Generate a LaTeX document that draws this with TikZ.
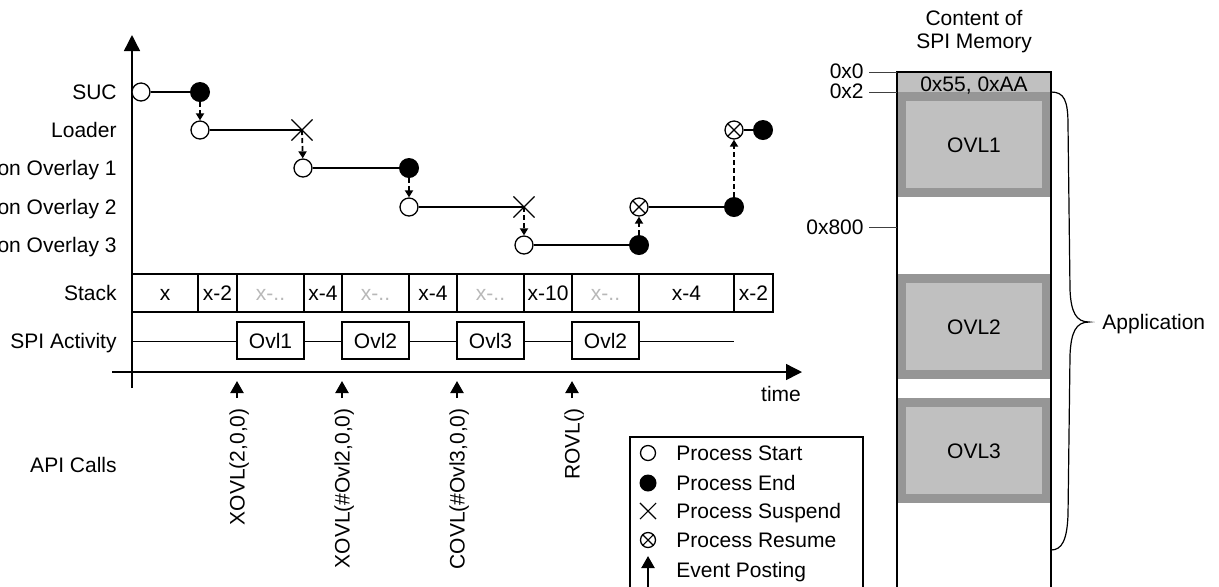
\documentclass[tikz,border=0pt]{standalone}
\usepackage{fontspec}
\setmainfont{Liberation Sans}
\usetikzlibrary{shapes.misc,arrows.meta,positioning}
\definecolor{memdark}{HTML}{969696}
\definecolor{memlight}{HTML}{C0C0C0}
\definecolor{greytxt}{HTML}{B8B8B8}
\tikzset{
  lbl/.style={inner sep=0pt, text height=7.5pt, text depth=0pt},
  rowlabel/.style={lbl, anchor=east},
  pstart/.style={circle, draw, fill=white, line width=0.65pt, minimum size=9pt, inner sep=0pt},
  pend/.style={circle, fill=black, minimum size=10pt, inner sep=0pt},
  psusp/.style={cross out, draw, line width=0.55pt, minimum size=10pt, inner sep=0pt},
  presume/.style={pstart, path picture={
      \draw[line width=0.55pt] (path picture bounding box.south west) -- (path picture bounding box.north east)
        (path picture bounding box.north west) -- (path picture bounding box.south east);}},
  proc/.style={line width=1.4pt},
  evt/.style={line width=0.9pt, dash pattern=on 2.5pt off 1.5pt, -{Triangle[length=3.5pt,width=4pt]}},
  axis/.style={line width=0.7pt, -{Triangle[length=8pt,width=8pt]}},
  stkcell/.style={lbl, draw, line width=0.7pt, minimum height=19pt},
  spibox/.style={lbl, draw, fill=white, line width=0.7pt, minimum height=18.5pt},
  apicall/.style={lbl, rotate=90, anchor=east, inner xsep=5pt},
  postarrow/.style={line width=1.1pt, -{Triangle[length=6pt,width=6.5pt]}},
  ovlblock/.style={lbl, fill=memlight, draw=memdark, line width=4.5pt, minimum width=72.5pt, minimum height=48pt},
  memframe/.style={line width=1.3pt},
  addrtick/.style={line width=0.5pt, draw=black!75}
}
\begin{document}
\begin{tikzpicture}[x=0.5pt, y=-0.5pt, font=\fontsize{10.5}{11.5}\selectfont]
\clip (0,0) rectangle (1219,586);

% axes
\coordinate (yax-bot) at (132,388);
\coordinate (yax-top) at (132,35);
\coordinate (xax-l) at (112,372);
\coordinate (xax-r) at (802,372);
\draw[axis] (yax-bot) -- (yax-top);
\draw[axis] (xax-l) -- (xax-r);
\node[lbl] (time) at (781,394) {time};

% row labels
\foreach \txt/\y/\nm in {SUC/92/suc, Loader/130/ldr, on Overlay 1/168/ov1, on Overlay 2/207/ov2,
  on Overlay 3/245/ov3, Stack/293/stk, SPI Activity/341/spi, API Calls/465/api}
  \node[rowlabel] (lbl-\nm) at (117,\y) {\txt};

% processes
\node[pstart] (suc-s) at (141,92) {};
\node[pend] (suc-e) at (200,92) {};
\node[pstart] (ldr-s) at (200,130) {};
\node[psusp] (ldr-x) at (302,130) {};
\node[presume] (ldr-r) at (734,130) {};
\node[pend] (ldr-e) at (763,130) {};
\node[pstart] (ov1-s) at (303,168) {};
\node[pend] (ov1-e) at (409,168) {};
\node[pstart] (ov2-s) at (409,207) {};
\node[psusp] (ov2-x) at (524,207) {};
\node[presume] (ov2-r) at (639,207) {};
\node[pend] (ov2-e) at (734,207) {};
\node[pstart] (ov3-s) at (524,245) {};
\node[pend] (ov3-e) at (639,245) {};

\draw[proc] (suc-s) -- (suc-e);
\draw[proc] (ldr-s) -- (ldr-x.center);
\draw[proc] (ldr-r) -- (ldr-e);
\draw[proc] (ov1-s) -- (ov1-e);
\draw[proc] (ov2-s) -- (ov2-x.center);
\draw[proc] (ov2-r) -- (ov2-e);
\draw[proc] (ov3-s) -- (ov3-e);

% switches between processes
\draw[evt] (suc-e) -- (ldr-s);
\draw[evt] (ldr-x.center) -- (ov1-s);
\draw[evt] (ov1-e) -- (ov2-s);
\draw[evt] (ov2-x.center) -- (ov3-s);
\draw[evt] (ov3-e) -- (ov2-r);
\draw[evt] (ov2-e) -- (ldr-r);

% stack
\foreach \a/\b/\t/\c [count=\i] in {132/198/x/black, 198/237/x-2/black, 237/304/x-../greytxt,
  304/342/x-4/black, 342/409/x-../greytxt, 409/457/x-4/black, 457/524/x-../greytxt,
  524/572/x-10/black, 572/639/x-../greytxt, 639/734/x-4/black, 734/773/x-2/black}
  \node[stkcell, text=\c, minimum width={(\b-\a)*0.5pt}] (stk-\i) at ({(\a+\b)/2},293) {\t};

% SPI activity
\coordinate (spi-l) at (132,341);
\coordinate (spi-r) at (734,341);
\draw[line width=0.5pt] (spi-l) -- (spi-r);
\foreach \a/\b/\t [count=\i] in {237/304/Ovl1, 342/409/Ovl2, 457/524/Ovl3, 572/639/Ovl2}
  \node[spibox, minimum width={(\b-\a)*0.5pt}] (spi-\i) at ({(\a+\b)/2},340.5) {\t};

% API calls
\foreach \x/\t [count=\i] in {237/{XOVL(2,0,0)}, 342/{XOVL(\#Ovl2,0,0)}, 457/{COVL(\#Ovl3,0,0)}, 572/{ROVL()}} {
  \coordinate (ev\i-tip) at (\x,381);
  \node[apicall] (api\i) at (\x,398) {\t};
  \draw[postarrow] (api\i.east) -- (ev\i-tip);
}

% legend
\node[draw, line width=0.8pt, anchor=north west, minimum width=116.5pt, minimum height=90pt] (legend) at (629,436) {};
\node[pstart, minimum size=7.5pt] (leg-s) at (648,453) {};
\node[pend, minimum size=8.5pt] (leg-e) at (648,483) {};
\node[psusp, minimum size=7.5pt] (leg-x) at (648,511) {};
\node[presume, minimum size=7.5pt] (leg-r) at (648,540) {};
\coordinate (leg-tip) at (648,556);
\coordinate (leg-foot) at (648,600);
\draw[postarrow] (leg-foot) -- (leg-tip);
\foreach \t/\y in {Process Start/453, Process End/483, Process Suspend/511, Process Resume/540, Event Posting/570}
  \node[lbl, anchor=west] at (676,\y) {\t};

% SPI memory
\node[align=center, inner sep=0pt] (memtitle) at (974,31.5) {Content of\\SPI Memory};
\fill[memlight] (897,72) rectangle (1051,92);
\node[ovlblock] (ovl1) at (974,144.5) {OVL1};
\node[ovlblock] (ovl2) at (974,326.5) {OVL2};
\node[ovlblock] (ovl3) at (974,450.5) {OVL3};
\node[lbl] (hdr) at (974,84) {0x55, 0xAA};
\draw[memframe] (897,600) -- (897,72) -- (1051,72) -- (1051,600);

% addresses
\node[lbl, anchor=east] (a0) at (864,71) {0x0};
\node[lbl, anchor=east] (a2) at (864,91) {0x2};
\node[lbl, anchor=east] (a800) at (864,227) {0x800};
\draw[addrtick] (869,72) -- (897,72);
\draw[addrtick] (869,92) -- (897,92);
\draw[addrtick] (869,227) -- (897,227);

% application brace
\coordinate (br-top) at (1051,92);
\coordinate (br-tip) at (1089,322);
\coordinate (br-bot) at (1051,550);
\draw[line width=0.6pt] (br-top) .. controls (1064,92) and (1068,100) .. (1068,125)
  -- (1070,290) .. controls (1071,312) and (1076,322) .. (br-tip)
  .. controls (1076,322) and (1071,332) .. (1070,355)
  -- (1068,515) .. controls (1067,540) and (1062,550) .. (br-bot);
\node[lbl, anchor=west] (app) at (1102,322) {Application};
\end{tikzpicture}
\end{document}
